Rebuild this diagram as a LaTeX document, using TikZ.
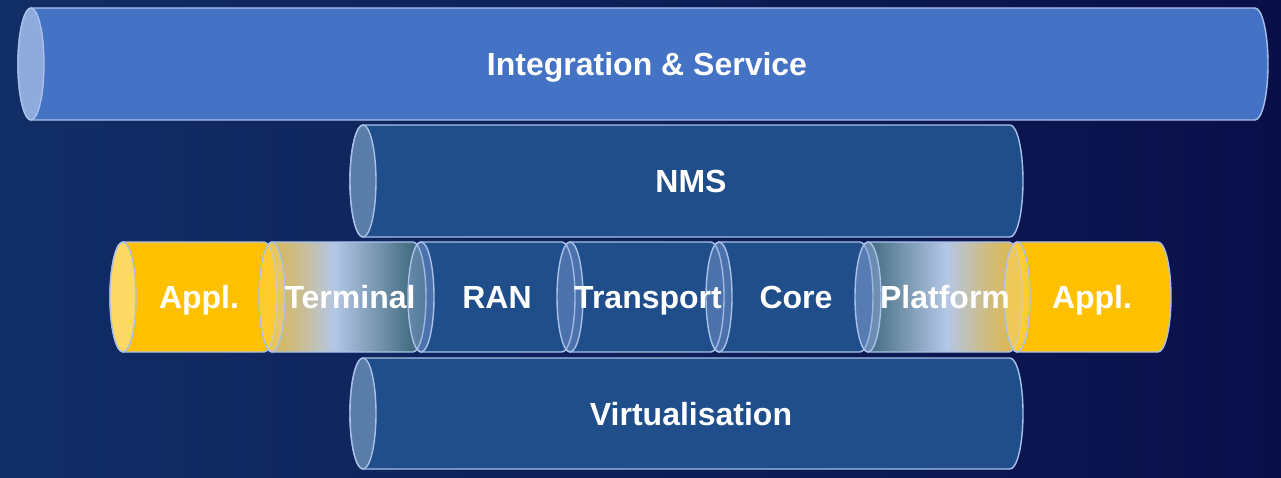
\documentclass[tikz,border=0pt]{standalone}
\usepackage{fontspec}
\setmainfont{Liberation Sans}
\definecolor{bgl}{HTML}{112E66}
\definecolor{bgr}{HTML}{0A0F4A}
\definecolor{integ}{HTML}{4472C4}
\definecolor{integend}{HTML}{8FAADC}
\definecolor{dblue}{HTML}{1F4E8A}
\definecolor{dend}{HTML}{5A7CA9}
\definecolor{gold}{HTML}{FFC000}
\definecolor{goldend}{HTML}{FFD966}
\definecolor{lblue}{HTML}{8FAADC}
\definecolor{edge}{HTML}{A9C1E8}
\definecolor{shA}{HTML}{DDB43E}
\definecolor{shB}{HTML}{CDBC84}
\definecolor{shC}{HTML}{B4C7E7}
\definecolor{shD}{HTML}{6F8FA8}
\definecolor{shE}{HTML}{2D5C6E}
\definecolor{shF}{HTML}{E3B73A}
\pgfdeclarehorizontalshading{termshade}{100bp}{color(0bp)=(shA); color(25bp)=(shA); color(36bp)=(shB); color(47.5bp)=(shC); color(62bp)=(shD); color(75bp)=(shE); color(100bp)=(shE)}
\pgfdeclarehorizontalshading{platshade}{100bp}{color(0bp)=(shE); color(25bp)=(shE); color(38bp)=(shD); color(52.5bp)=(shC); color(64bp)=(shB); color(75bp)=(shF); color(100bp)=(shF)}
\newcommand\cylbody[5]{%
  \path[#5] (#1,#2+#4) -- (#1+#3,#2+#4)
    arc[start angle=90, end angle=-90, x radius=13pt, y radius=#4pt]
    -- (#1,#2-#4)
    arc[start angle=270, end angle=90, x radius=13pt, y radius=#4pt] -- cycle;}
\newcommand\cylend[4]{%
  \path[#4] (#1,#2) ellipse[x radius=13pt, y radius=#3pt];}
\begin{document}
\begin{tikzpicture}[x=1pt,y=1pt,
  outl/.style={draw=edge, line width=1.4pt},
  lbl/.style={text=white, font=\fontsize{32}{36}\selectfont\bfseries, inner sep=0pt, anchor=base}]
\useasboundingbox (0,0) rectangle (1281,477);
\shade[left color=bgl, right color=bgr] (0,0) rectangle (1281,477);
% Integration & Service
\cylbody{31}{413}{1224}{56}{outl, fill=integ}
\cylend{31}{413}{56}{outl, fill=integend}
% NMS
\cylbody{363}{296}{647}{56}{outl, fill=dblue}
\cylend{363}{296}{56}{outl, fill=dend}
% Virtualisation
\cylbody{363}{63.5}{647}{55.5}{outl, fill=dblue}
\cylend{363}{63.5}{55.5}{outl, fill=dend}
% middle row bodies, right to left
\cylbody{1017}{180}{141}{55}{outl, fill=gold}
\cylbody{868}{180}{141}{55}{outl, shading=platshade}
\cylbody{719}{180}{141}{55}{outl, fill=dblue}
\cylbody{570}{180}{141}{55}{outl, fill=dblue}
\cylbody{421}{180}{141}{55}{outl, fill=dblue}
\cylbody{272}{180}{141}{55}{outl, shading=termshade}
\cylbody{123}{180}{141}{55}{outl, fill=gold}
% middle row end faces
\cylend{123}{180}{55}{outl, fill=goldend}
\cylend{272}{180}{55}{outl, fill=goldend, fill opacity=0.45}
\cylend{421}{180}{55}{outl, fill=lblue, fill opacity=0.4}
\cylend{570}{180}{55}{outl, fill=lblue, fill opacity=0.4}
\cylend{719}{180}{55}{outl, fill=lblue, fill opacity=0.4}
\cylend{868}{180}{55}{outl, fill=lblue, fill opacity=0.5}
\cylend{1017}{180}{55}{outl, fill=goldend, fill opacity=0.5}
% labels (baseline = centre - half cap height)
\node[lbl] (integ) at (647,401.5) {Integration \& Service};
\node[lbl] (nms) at (691,284.5) {NMS};
\node[lbl] (virt) at (691,52) {Virtualisation};
\node[lbl] (appl1) at (199,168.5) {Appl.};
\node[lbl] (term) at (350,168.5) {Terminal};
\node[lbl] (ran) at (497,168.5) {RAN};
\node[lbl] (transp) at (648,168.5) {Transport};
\node[lbl] (core) at (796,168.5) {Core};
\node[lbl] (platf) at (945,168.5) {Platform};
\node[lbl] (appl2) at (1092,168.5) {Appl.};
\end{tikzpicture}
\end{document}
